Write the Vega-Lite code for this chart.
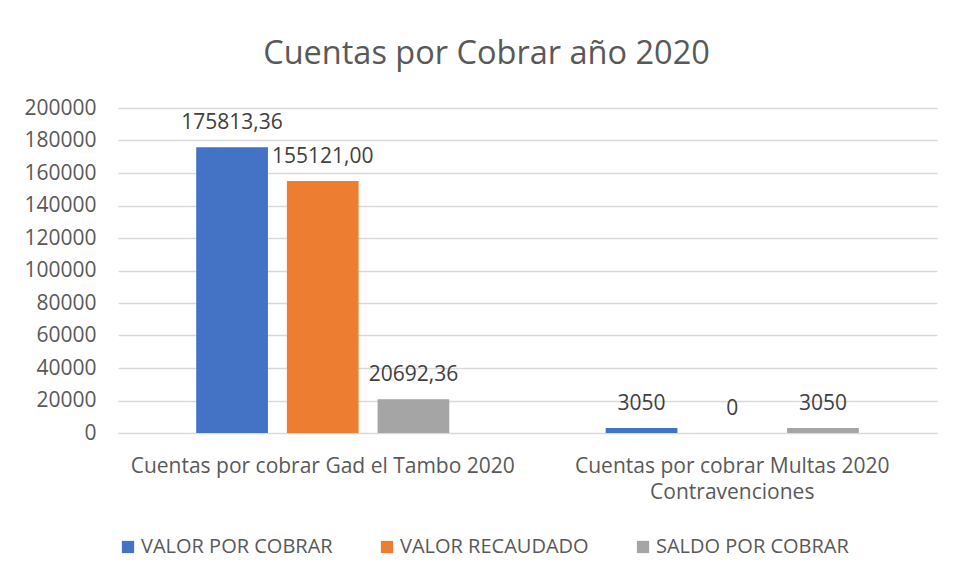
{
  "$schema": "https://vega.github.io/schema/vega-lite/v6.json",
  "width": 819,
  "height": 325,
  "autosize": {"type": "none"},
  "padding": {"left": 118, "top": 108, "right": 17, "bottom": 145},
  "background": "white",
  "config": {"view": {"stroke": null}},
  "title": {
    "text": "Cuentas por Cobrar año 2020",
    "font": "Open Sans",
    "fontSize": 32.5,
    "fontWeight": "normal",
    "color": "#595959",
    "anchor": "middle",
    "dx": -41,
    "offset": 27
  },
  "data": {
    "values": [
      {"cat": "Cuentas por cobrar Gad el Tambo 2020", "serie": "VALOR POR COBRAR", "valor": 175813.36, "label": "175813,36"},
      {"cat": "Cuentas por cobrar Gad el Tambo 2020", "serie": "VALOR RECAUDADO", "valor": 155121.00, "label": "155121,00"},
      {"cat": "Cuentas por cobrar Gad el Tambo 2020", "serie": "SALDO POR COBRAR", "valor": 20692.36, "label": "20692,36"},
      {"cat": "Cuentas por cobrar Multas 2020|Contravenciones", "serie": "VALOR POR COBRAR", "valor": 3050, "label": "3050"},
      {"cat": "Cuentas por cobrar Multas 2020|Contravenciones", "serie": "VALOR RECAUDADO", "valor": 0, "label": "0"},
      {"cat": "Cuentas por cobrar Multas 2020|Contravenciones", "serie": "SALDO POR COBRAR", "valor": 3050, "label": "3050"}
    ]
  },
  "encoding": {
    "x": {
      "field": "cat",
      "type": "nominal",
      "sort": null,
      "scale": {"paddingInner": 0.382, "paddingOuter": 0.191},
      "axis": {
        "title": null,
        "labelExpr": "split(datum.label, '|')",
        "labelAngle": 0,
        "labelFont": "Open Sans",
        "labelFontSize": 21,
        "labelColor": "#595959",
        "labelPadding": 22,
        "labelLineHeight": 26,
        "labelLimit": 500,
        "ticks": false,
        "domain": false,
        "grid": false
      }
    },
    "xOffset": {
      "field": "serie",
      "type": "nominal",
      "sort": ["VALOR POR COBRAR", "VALOR RECAUDADO", "SALDO POR COBRAR"],
      "scale": {"paddingInner": 0.209, "paddingOuter": 0}
    },
    "y": {
      "field": "valor",
      "type": "quantitative",
      "scale": {"domain": [0, 200000], "nice": false},
      "axis": {
        "title": null,
        "values": [0, 20000, 40000, 60000, 80000, 100000, 120000, 140000, 160000, 180000, 200000],
        "format": "d",
        "labelFont": "Open Sans",
        "labelFontSize": 21,
        "labelColor": "#595959",
        "labelPadding": 22,
        "ticks": false,
        "domain": false,
        "gridColor": "#d9d9d9",
        "gridWidth": 1.5
      }
    }
  },
  "layer": [
    {
      "mark": {"type": "bar"},
      "encoding": {
        "color": {
          "field": "serie",
          "type": "nominal",
          "scale": {
            "domain": ["VALOR POR COBRAR", "VALOR RECAUDADO", "SALDO POR COBRAR"],
            "range": ["#4472C4", "#ED7D31", "#A5A5A5"]
          },
          "legend": {
            "title": null,
            "orient": "none",
            "direction": "horizontal",
            "legendX": 0,
            "legendY": 429,
            "symbolType": "square",
            "symbolSize": 150,
            "symbolStrokeWidth": 0,
            "labelFont": "Open Sans",
            "labelFontSize": 20,
            "labelColor": "#595959",
            "labelOffset": 3,
            "labelLimit": 400,
            "columnPadding": 44
          }
        }
      }
    },
    {
      "mark": {
        "type": "text",
        "dy": -24,
        "baseline": "middle",
        "font": "Open Sans",
        "fontSize": 21,
        "color": "#404040"
      },
      "encoding": {
        "text": {"field": "label", "type": "nominal"}
      }
    }
  ]
}
